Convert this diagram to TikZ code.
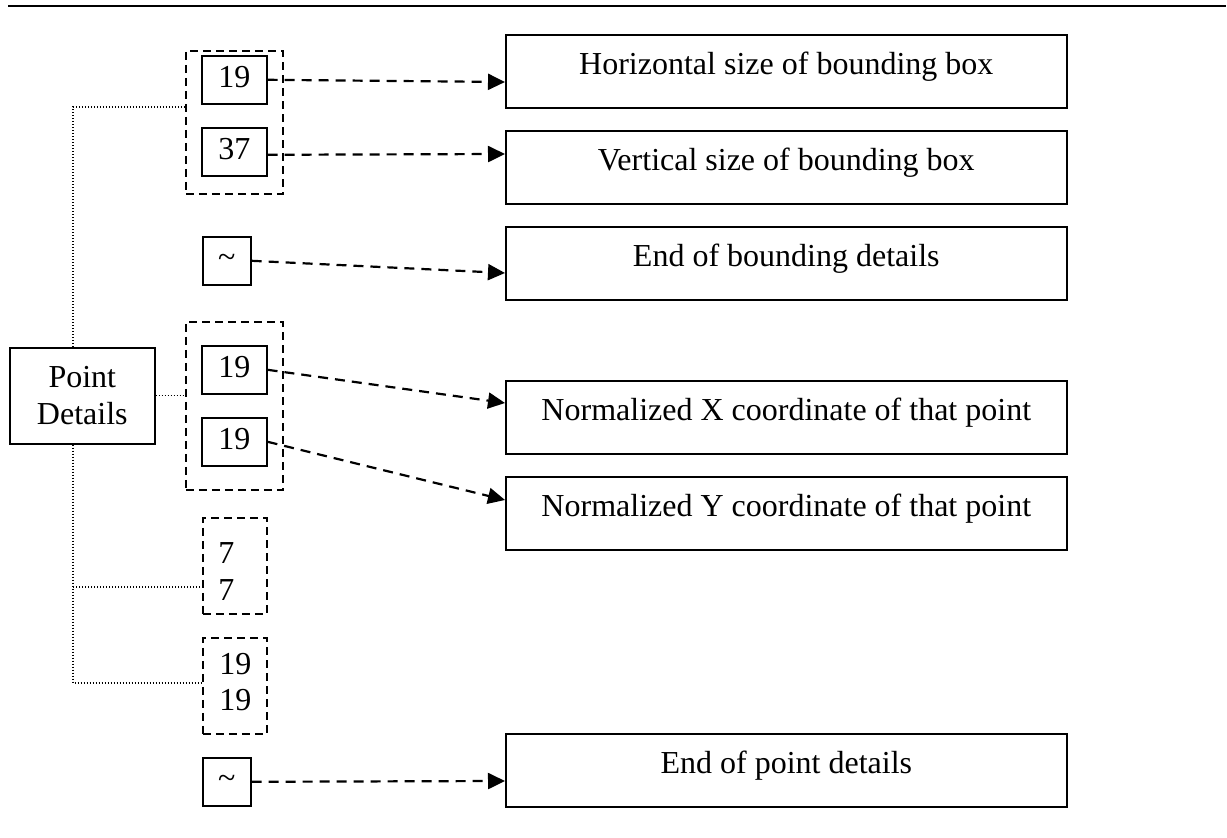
\documentclass[tikz,border=0pt]{standalone}
\usepackage{fontspec}
\setmainfont{Liberation Serif}
\usetikzlibrary{arrows.meta,calc}
\begin{document}
\begin{tikzpicture}[x=0.5pt,y=-0.5pt,
  every node/.style={font=\fontsize{16}{18.5}\selectfont, inner sep=0pt},
  solidbox/.style={draw, line width=0.8pt, rectangle, anchor=north west},
  numbox/.style={solidbox, minimum width=32.5pt, minimum height=24pt, text depth=2.5pt},
  tildebox/.style={solidbox, minimum width=24pt, minimum height=24pt},
  descbox/.style={solidbox, minimum width=280.5pt, minimum height=36.5pt},
  groupbox/.style={draw, line width=0.85pt, dash pattern=on 4pt off 2.5pt, rectangle, anchor=north west},
  link/.style={line width=1.1pt, dash pattern=on 5pt off 3.5pt, -{Triangle[length=8.5pt,width=8pt]}},
  tree/.style={line width=0.6pt, dash pattern=on 0.6pt off 0.9pt},
  lbl/.style={anchor=base}]
\useasboundingbox (0,0) rectangle (1227,838);

% header rule
\coordinate (rl) at (8,6);
\coordinate (rr) at (1226,6);
\draw[line width=1pt] (rl) -- (rr);

% grouping frames
\node[groupbox, minimum width=48.5pt, minimum height=71.5pt] (g1) at (185,50) {};
\node[groupbox, minimum width=48.5pt, minimum height=84pt] (g2) at (185,321) {};
\node[groupbox, minimum width=32pt, minimum height=48pt] (g3) at (202,517) {};
\node[groupbox, minimum width=32pt, minimum height=48pt] (g4) at (202,637) {};

% value boxes
\node[numbox] (b19a) at (201,55) {19};
\node[numbox] (b37) at (201,127) {37};
\node[tildebox] (t1) at (202,236) {\raisebox{-1pt}{\textasciitilde}};
\node[numbox] (b19c) at (201,345) {19};
\node[numbox] (b19d) at (201,417) {19};
\node[tildebox] (t2) at (202,757) {\raisebox{-1pt}{\textasciitilde}};

% bare values in frames
\node[anchor=base west] (v7a) at (218,564) {7};
\node[anchor=base west] (v7b) at (218,601) {7};
\node[anchor=base west] (v19a) at (219,675) {19};
\node[anchor=base west] (v19b) at (219,711) {19};

% point details box
\node[solidbox, minimum width=72.5pt, minimum height=48pt, align=center] (pd) at (9,347) {Point\\Details};

% description boxes
\node[descbox] (r1) at (505,34) {};
\node[descbox] (r2) at (505,130) {};
\node[descbox] (r3) at (505,226) {};
\node[descbox] (r4) at (505,380) {};
\node[descbox] (r5) at (505,476) {};
\node[descbox] (r6) at (505,733) {};
\node[lbl] (l1) at ($(r1.north)+(0,41)$) {Horizontal size of bounding box};
\node[lbl] (l2) at ($(r2.north)+(0,41)$) {Vertical size of bounding box};
\node[lbl] (l3) at ($(r3.north)+(0,41)$) {End of bounding details};
\node[lbl] (l4) at ($(r4.north)+(0,41)$) {Normalized X coordinate of that point};
\node[lbl] (l5) at ($(r5.north)+(0,41)$) {Normalized Y coordinate of that point};
\node[lbl] (l6) at ($(r6.north)+(0,41)$) {End of point details};

% arrows
\draw[link] (b19a.east) -- ($(r1.north west)+(0,48)$);
\draw[link] ($(b37.east)+(0,3)$) -- ($(r2.north west)+(0,24)$);
\draw[link] (t1.east) -- ($(r3.north west)+(0,47)$);
\draw[link] (b19c.east) -- ($(r4.north west)+(0,23)$);
\draw[link] (b19d.east) -- ($(r5.north west)+(0,24)$);
\draw[link] (t2.east) -- ($(r6.north west)+(0,48)$);

% dotted tree
\coordinate (tA) at (73,107);
\coordinate (tB) at (73,683);
\coordinate (tC) at (73,587);
\draw[tree] (pd.north -| tA) -- (tA) -- (tA -| g1.west);
\draw[tree] (pd.east) -- (pd.east -| g2.west);
\draw[tree] (pd.south -| tB) -- (tB) -- (tB -| g4.west);
\draw[tree] (tC) -- (tC -| g3.west);
\end{tikzpicture}
\end{document}
